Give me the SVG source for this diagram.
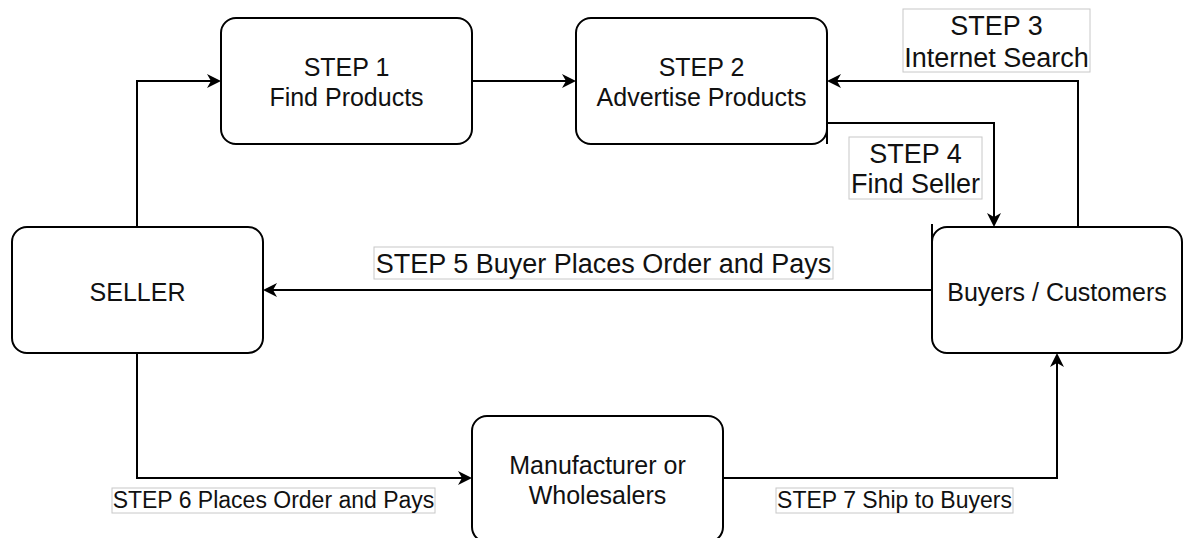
<svg xmlns="http://www.w3.org/2000/svg" width="1184" height="538" viewBox="0 0 1184 538">
  <style>
    .node { fill: #ffffff; stroke: #000000; stroke-width: 2; }
    .t { font-family: "Liberation Sans", Arial, Helvetica, sans-serif; fill: #111111; text-anchor: middle; }
    .nt { font-size: 25px; }
    .lt { font-size: 27px; }
    .st { font-size: 23px; }
    .lbl { fill: #ffffff; stroke: #c8c8c8; stroke-width: 1; }
    .edge { fill: none; stroke: #000000; stroke-width: 2; }
  </style>
  <defs>
    <marker id="arrow" markerUnits="userSpaceOnUse" markerWidth="30" markerHeight="30" viewBox="-15 -15 30 30" refX="0" refY="0" orient="auto" overflow="visible">
      <path d="M 9 0 L -5 -7 L -1 0 L -5 7 Z" fill="#000000" stroke="none"/>
    </marker>
  </defs>
  <rect width="1184" height="538" fill="#ffffff"/>

  <g id="connectors">
    <path class="edge" d="M 137 227 L 137 81 L 212 81" marker-end="url(#arrow)"/>
    <path class="edge" d="M 473 81 L 567 81" marker-end="url(#arrow)"/>
    <path class="edge" d="M 1078 227 L 1078 81 L 836 81" marker-end="url(#arrow)"/>
    <path class="edge" d="M 827 123 L 994 123 L 994 218" marker-end="url(#arrow)"/>
    <path class="edge" d="M 932 290 L 272 290" marker-end="url(#arrow)"/>
    <path class="edge" d="M 137 353 L 137 478 L 463 478" marker-end="url(#arrow)"/>
    <path class="edge" d="M 723 478 L 1057 478 L 1057 362" marker-end="url(#arrow)"/>
  </g>

  <g id="step1">
    <rect class="node" x="221" y="18" width="251" height="126" rx="15" ry="15"/>
    <text class="t nt" x="346.5" y="76">STEP 1</text>
    <text class="t nt" x="346.5" y="106">Find Products</text>
  </g>
  <g id="step2">
    <rect class="node" x="576" y="18" width="251" height="126" rx="15" ry="15"/>
    <text class="t nt" x="701.5" y="76">STEP 2</text>
    <text class="t nt" x="701.5" y="106">Advertise Products</text>
  </g>
  <g id="seller">
    <rect class="node" x="12" y="227" width="251" height="126" rx="15" ry="15"/>
    <text class="t nt" x="137.5" y="301">SELLER</text>
  </g>
  <g id="buyers">
    <rect class="node" x="932" y="227" width="250" height="126" rx="15" ry="15"/>
    <text class="t nt" x="1057" y="301">Buyers / Customers</text>
  </g>
  <g id="manufacturer">
    <rect class="node" x="472" y="416" width="251" height="126" rx="15" ry="15"/>
    <text class="t nt" x="597.5" y="474">Manufacturer or</text>
    <text class="t nt" x="597.5" y="504">Wholesalers</text>
  </g>

  <g id="edge-stubs">
    <line class="edge" x1="827" y1="123" x2="827" y2="144"/>
    <line class="edge" x1="932" y1="224" x2="932" y2="243"/>
  </g>

  <g id="label-step3">
    <rect class="lbl" x="903" y="9" width="187" height="63"/>
    <text class="t lt" x="996.5" y="35">STEP 3</text>
    <text class="t lt" x="996.5" y="67">Internet Search</text>
  </g>
  <g id="label-step4">
    <rect class="lbl" x="849" y="137" width="133" height="62"/>
    <text class="t lt" x="915.5" y="163">STEP 4</text>
    <text class="t lt" x="915.5" y="193">Find Seller</text>
  </g>
  <g id="label-step5">
    <rect class="lbl" x="374" y="247" width="459" height="32"/>
    <text class="t lt" x="603.5" y="273">STEP 5 Buyer Places Order and Pays</text>
  </g>
  <g id="label-step6">
    <rect class="lbl" x="112" y="488" width="323" height="25"/>
    <text class="t st" x="273.5" y="508">STEP 6 Places Order and Pays</text>
  </g>
  <g id="label-step7">
    <rect class="lbl" x="776" y="488" width="237" height="25"/>
    <text class="t st" x="894.5" y="508">STEP 7 Ship to Buyers</text>
  </g>
</svg>
